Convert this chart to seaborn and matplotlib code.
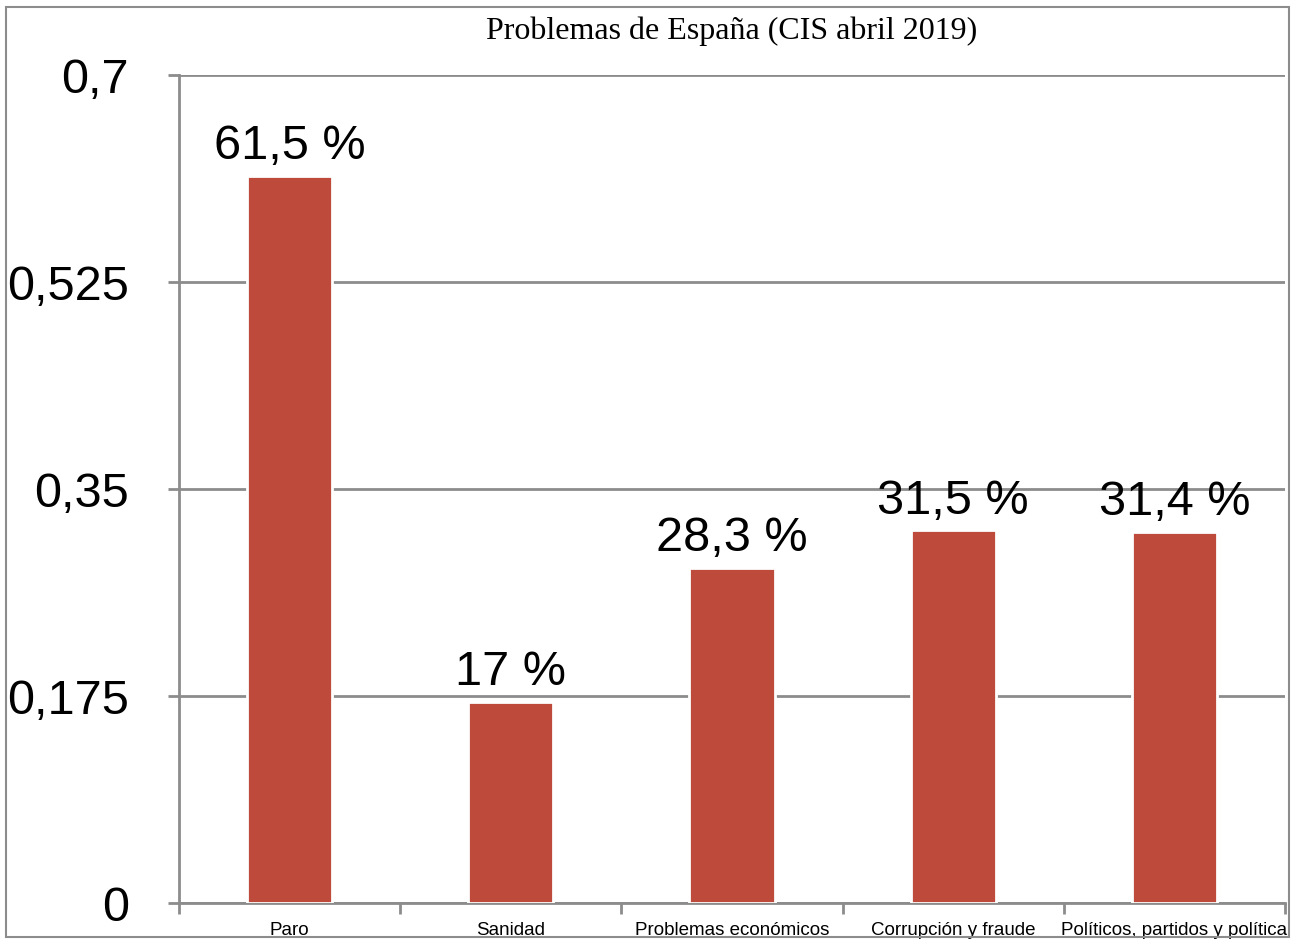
import matplotlib.pyplot as plt
import matplotlib.patches as patches
from matplotlib.ticker import FixedLocator
import seaborn as sns
import pandas as pd

categorias = ['Paro', 'Sanidad', 'Problemas económicos', 'Corrupción y fraude',
              'Políticos, partidos y política']
valores = [0.615, 0.17, 0.283, 0.315, 0.314]
etiquetas = ['61,5 %', '17 %', '28,3 %', '31,5 %', '31,4 %']
yticks = [0, 0.175, 0.35, 0.525, 0.7]
yticklabels = ['0', '0,175', '0,35', '0,525', '0,7']

sns.set_theme(style='white')
plt.rcParams['font.family'] = ['Liberation Sans', 'DejaVu Sans']

gris = '#8c8c8c'
rojo = '#bd4a3a'

df = pd.DataFrame({'problema': categorias, 'valor': valores})

fig = plt.figure(figsize=(13.02, 9.39), dpi=100)
ax = fig.add_axes([0.1375, 0.0383, 0.8495, 0.8817])

sns.barplot(data=df, x='problema', y='valor', color=rojo, saturation=1,
            width=0.385, edgecolor='white', linewidth=2, ax=ax, zorder=3)

ax.set_xlim(-0.5, 4.5)
ax.set_ylim(0, 0.7)
ax.set_yticks(yticks)
ax.set_yticklabels(yticklabels)
ax.yaxis.grid(True, color=gris, linewidth=2)
ax.set_axisbelow(True)

for s in ['top', 'right']:
    ax.spines[s].set_visible(False)
for s in ['left', 'bottom']:
    ax.spines[s].set_color(gris)
    ax.spines[s].set_linewidth(2)

ax.tick_params(axis='y', which='major', length=8, width=2, color=gris,
               labelsize=35, labelcolor='black', pad=28, left=True)
ax.tick_params(axis='x', which='major', length=0, labelsize=13.5,
               labelcolor='black', pad=14)
ax.xaxis.set_minor_locator(FixedLocator([-0.5, 0.5, 1.5, 2.5, 3.5, 4.5]))
ax.tick_params(axis='x', which='minor', length=8, width=2, color=gris,
               bottom=True, direction='out')

ax.set_xlabel('')
ax.set_ylabel('')

for i, (v, t) in enumerate(zip(valores, etiquetas)):
    ax.annotate(t, (i, v), xytext=(0, 5), textcoords='offset points',
                ha='center', va='bottom', fontsize=35, color='black')

fig.text(0.562, 0.967, 'Problemas de España (CIS abril 2019)',
         ha='center', va='center', fontsize=23, color='black',
         family=['Liberation Serif', 'DejaVu Serif'])

fig.patches.append(patches.Rectangle((0.0046, 0.0021), 0.9854, 0.9904,
                                     transform=fig.transFigure, fill=False,
                                     edgecolor=gris, linewidth=1.5))

fig.savefig('out.png', dpi=100)
